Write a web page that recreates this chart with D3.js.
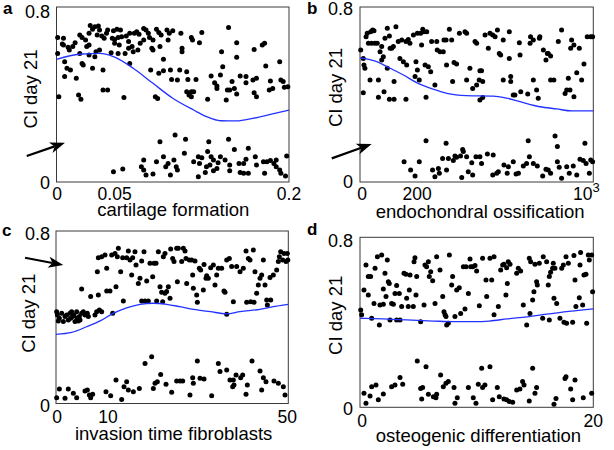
<!DOCTYPE html>
<html>
<head>
<meta charset="utf-8">
<script src="https://cdn.jsdelivr.net/npm/d3@7"></script>
<style>
  body { margin: 0; background: #fff; }
  svg text { font-family: "Liberation Sans", Arial, Helvetica, sans-serif; fill: #000; }
</style>
</head>
<body>
<svg id="chart" width="614" height="450"></svg>
<script>
// ---- data ----
const yDomain = [0, 0.8];
const yTickLabels = ["0", "0.8"];

// a: cartilage formation
const aTicks = [0, 0.05, 0.2];
const aTickLabels = ["0", "0.05", "0.2"];
const aPoints = [
  [0.029,0.715],[0.033,0.710],[0.036,0.713],[0.031,0.698],[0.028,0.680],[0.037,0.695],[0.044,0.695],[0.049,0.692],[0.052,0.698],[0.055,0.695],
  [0.043,0.680],[0.039,0.667],[0.035,0.672],[0.041,0.657],[0.048,0.657],[0.050,0.652],[0.053,0.661],[0.056,0.664],[0.060,0.667],[0.063,0.680],
  [0.067,0.680],[0.069,0.687],[0.071,0.675],[0.075,0.702],[0.077,0.695],[0.079,0.680],[0.080,0.661],[0.086,0.698],[0.088,0.683],[0.090,0.672],
  [0.095,0.695],[0.097,0.680],[0.100,0.692],[0.107,0.680],[0.116,0.661],[0.117,0.649],[0.125,0.683],[0.123,0.637],[0.148,0.706],[0.155,0.637],
  [0.170,0.606],[0.177,0.626],[0.179,0.634],[0.142,0.596],[0.155,0.570],
  [0.001,0.661],[0.006,0.657],[0.010,0.616],[0.006,0.626],[0.001,0.588],[0.007,0.550],[0.009,0.520],[0.012,0.512],[0.007,0.482],[0.002,0.390],
  [0.005,0.631],[0.011,0.603],[0.014,0.619],[0.016,0.637],[0.020,0.672],[0.022,0.661],[0.025,0.649],[0.026,0.619],[0.028,0.626],[0.017,0.474],
  [0.019,0.398],[0.021,0.378],[0.020,0.588],[0.022,0.542],[0.023,0.535],[0.028,0.581],[0.031,0.520],[0.033,0.573],[0.034,0.596],[0.037,0.603],
  [0.040,0.512],[0.040,0.421],[0.044,0.421],[0.047,0.591],[0.050,0.634],[0.053,0.588],[0.054,0.626],[0.059,0.588],[0.058,0.386],[0.062,0.611],
  [0.063,0.542],[0.065,0.619],[0.066,0.596],[0.070,0.603],[0.072,0.634],[0.082,0.611],[0.083,0.649],[0.083,0.603],[0.081,0.512],[0.085,0.390],
  [0.087,0.382],[0.088,0.497],[0.092,0.561],[0.092,0.509],[0.098,0.512],[0.099,0.469],[0.104,0.466],[0.106,0.512],[0.112,0.504],[0.108,0.611],
  [0.108,0.596],[0.112,0.413],[0.114,0.398],[0.116,0.413],[0.118,0.413],[0.113,0.469],[0.116,0.390],[0.120,0.469],[0.130,0.378],[0.133,0.485],
  [0.136,0.454],[0.138,0.439],[0.141,0.489],[0.138,0.428],[0.143,0.527],[0.147,0.421],[0.149,0.421],[0.146,0.375],[0.151,0.459],[0.153,0.428],
  [0.155,0.402],[0.158,0.485],[0.163,0.482],[0.163,0.454],[0.169,0.466],[0.172,0.474],[0.170,0.408],[0.172,0.390],[0.180,0.530],[0.183,0.421],
  [0.184,0.462],[0.186,0.428],[0.192,0.550],[0.193,0.466],[0.195,0.459],[0.196,0.433],[0.199,0.436],[0.075,0.649],[0.062,0.642],[0.089,0.619],
  [0.096,0.649],
  [0.102,0.215],[0.111,0.195],[0.089,0.184],[0.131,0.184],[0.148,0.195],[0.165,0.154],[0.153,0.149],[0.110,0.131],[0.092,0.116],[0.101,0.101],
  [0.075,0.101],[0.086,0.093],[0.122,0.116],[0.125,0.111],[0.130,0.139],[0.133,0.116],[0.141,0.116],[0.139,0.088],[0.135,0.101],[0.171,0.116],
  [0.181,0.093],[0.184,0.098],[0.189,0.101],[0.198,0.119],[0.163,0.104],[0.161,0.085],[0.073,0.070],[0.094,0.070],[0.096,0.085],[0.103,0.070],
  [0.118,0.093],[0.129,0.070],[0.132,0.078],[0.149,0.078],[0.157,0.085],[0.172,0.078],[0.178,0.093],[0.187,0.085],[0.189,0.070],[0.049,0.047],
  [0.057,0.059],[0.075,0.055],[0.077,0.032],[0.083,0.037],[0.098,0.032],[0.104,0.055],[0.122,0.024],[0.128,0.043],[0.135,0.052],[0.138,0.062],
  [0.149,0.052],[0.158,0.043],[0.161,0.040],[0.165,0.040],[0.179,0.040],[0.192,0.055],[0.193,0.040],[0.197,0.027],[0.123,0.085],[0.145,0.101]
];
const aFit = [[0,0.561],[0.020,0.584],[0.037,0.588],[0.049,0.573],[0.066,0.520],[0.083,0.451],[0.100,0.383],[0.118,0.329],
  [0.129,0.299],[0.141,0.280],[0.155,0.279],[0.169,0.291],[0.184,0.309],[0.200,0.329]];

// b: endochondral ossification
const bTicks = [0, 200, 1000];
const bTickLabels = ["0", "200", "10^3"];
const bPoints = [
  [3,0.603],[14,0.565],[17,0.535],[21,0.520],[14,0.408],[26,0.664],[31,0.680],[46,0.687],[54,0.695],[60,0.692],
  [36,0.634],[50,0.634],[64,0.634],[74,0.634],[43,0.466],[79,0.466],[86,0.596],[93,0.619],[107,0.657],[117,0.703],
  [126,0.667],[93,0.558],[100,0.573],[117,0.520],[129,0.611],[136,0.611],[143,0.619],[154,0.710],[164,0.642],[179,0.649],
  [197,0.642],[207,0.652],[214,0.634],[171,0.565],[186,0.550],[200,0.535],[197,0.378],[146,0.459],[103,0.413],[79,0.387],
  [126,0.378],[146,0.378],[229,0.672],[246,0.680],[260,0.680],[269,0.698],[274,0.687],[286,0.687],[264,0.626],[240,0.550],
  [246,0.512],[254,0.466],[236,0.482],[279,0.535],[293,0.527],[303,0.504],[283,0.387],[321,0.443],[307,0.642],[329,0.642],
  [331,0.603],[343,0.596],[357,0.596],[360,0.649],[369,0.649],[371,0.535],[383,0.698],[393,0.649],[397,0.459],[403,0.546],
  [414,0.540],[426,0.680],[450,0.687],[457,0.680],[457,0.466],[471,0.520],[483,0.428],[493,0.642],[500,0.634],[511,0.466],
  [514,0.509],[521,0.509],[526,0.459],[500,0.443],[514,0.375],[526,0.386],[536,0.672],[550,0.611],[557,0.680],[569,0.672],
  [579,0.664],[589,0.695],[597,0.588],[603,0.581],[614,0.649],[640,0.687],[640,0.565],[614,0.466],[646,0.459],[646,0.482],
  [657,0.398],[664,0.398],[683,0.637],[686,0.581],[689,0.413],[719,0.402],[729,0.634],[731,0.664],[743,0.649],[743,0.466],
  [757,0.421],[764,0.383],[769,0.657],[771,0.664],[786,0.603],[797,0.558],[803,0.588],[807,0.588],[817,0.576],[817,0.466],
  [831,0.466],[850,0.642],[864,0.695],[879,0.405],[886,0.421],[893,0.474],[900,0.421],[903,0.611],[907,0.649],[917,0.390],
  [917,0.626],[929,0.500],[940,0.611],[950,0.466],[960,0.540],[974,0.664],[989,0.664],[997,0.664],
  [283,0.189],[369,0.177],[189,0.093],[217,0.055],[236,0.027],[254,0.093],[311,0.055],[321,0.024],[340,0.040],[354,0.108],
  [379,0.108],[400,0.098],[407,0.119],[414,0.113],[431,0.119],[440,0.149],[443,0.139],[457,0.116],[464,0.047],[479,0.088],
  [483,0.032],[497,0.116],[514,0.116],[521,0.085],[546,0.128],[571,0.123],[569,0.032],[586,0.040],[593,0.047],[617,0.078],
  [631,0.040],[636,0.070],[657,0.093],[669,0.037],[679,0.040],[700,0.073],[714,0.085],[721,0.189],[726,0.116],[743,0.085],
  [760,0.073],[783,0.027],[797,0.058],[807,0.055],[817,0.040],[836,0.210],[846,0.162],[846,0.093],[854,0.067],[864,0.017],
  [886,0.070],[897,0.040],[914,0.073],[929,0.032],[943,0.104],[957,0.098],[964,0.177],[969,0.085],[983,0.040],[989,0.101],
  [997,0.093],[436,0.021],[371,0.055],[336,0.062]
];
const bFit = [[0,0.567],[72,0.550],[129,0.520],[186,0.489],[243,0.454],[314,0.424],[372,0.405],[457,0.395],[571,0.393],
  [629,0.383],[686,0.367],[771,0.344],[843,0.334],[907,0.325],[1000,0.325]];

// c: invasion time fibroblasts
const cTicks = [0, 10, 50];
const cTickLabels = ["0", "10", "50"];
const cPoints = [
  [0.14,0.426],[0.29,0.410],[0.72,0.395],[1.22,0.418],[1.58,0.380],[1.94,0.403],[2.30,0.410],[2.65,0.387],[3.01,0.418],[3.16,0.395],
  [3.59,0.403],[3.87,0.410],[4.09,0.380],[4.45,0.426],[4.59,0.395],[5.02,0.403],[5.17,0.387],[5.52,0.418],[5.88,0.426],[6.24,0.410],
  [6.74,0.418],[6.96,0.403],[5.52,0.531],[7.46,0.496],[0.5,0.383],[3.37,0.426],[4.8,0.383],
  [8.39,0.410],[8.75,0.426],[9.33,0.434],[9.83,0.426],[9.11,0.503],[8.90,0.611],[9.11,0.676],[9.83,0.681],[10.55,0.689],[10.91,0.522],
  [10.91,0.627],[11.62,0.522],[11.98,0.689],[12.20,0.418],[12.70,0.696],[13.20,0.681],[12.91,0.542],[13.42,0.720],[13.92,0.611],[14.35,0.676],
  [14.49,0.475],[15.21,0.676],[15.57,0.707],[15.93,0.666],[16.29,0.596],[16.50,0.676],[17.00,0.704],[17.22,0.642],[17.72,0.557],[18.08,0.581],
  [18.44,0.661],[18.44,0.475],[18.94,0.704],[19.16,0.475],[19.52,0.568],[19.87,0.475],[20.23,0.650],[20.81,0.588],[21.09,0.650],[21.53,0.650],
  [21.67,0.475],[22.03,0.704],[22.39,0.542],[22.74,0.516],[22.96,0.472],[23.10,0.681],[23.46,0.696],[23.46,0.511],[23.82,0.519],[24.18,0.542],
  [24.54,0.488],[24.68,0.717],[25.11,0.673],[25.40,0.658],[25.97,0.720],[26.12,0.565],[26.33,0.720],[27.05,0.658],[27.41,0.720],[27.77,0.707],
  [27.98,0.673],[28.13,0.557],[28.70,0.666],[29.20,0.666],[29.42,0.596],[29.56,0.534],[29.92,0.661],[30.28,0.503],[30.42,0.469],[30.85,0.627],
  [31.14,0.619],[31.71,0.526],[31.86,0.645],[32.29,0.581],[32.43,0.593],[32.79,0.581],[33.29,0.630],[33.87,0.642],[34.22,0.550],[34.58,0.596],
  [34.94,0.627],[35.66,0.627],[36.16,0.522],[36.38,0.516],[36.74,0.666],[36.74,0.414],[37.31,0.673],[37.81,0.635],[38.17,0.472],[38.89,0.635],
  [39.61,0.611],[40.32,0.627],[40.90,0.707],[41.04,0.469],[41.40,0.673],[41.76,0.666],[41.90,0.472],[42.48,0.712],[42.62,0.469],[42.83,0.611],
  [43.19,0.511],[43.55,0.550],[43.91,0.581],[44.27,0.596],[44.63,0.666],[44.99,0.550],[45.35,0.480],[45.49,0.457],[46.06,0.584],[46.21,0.480],
  [46.78,0.596],[47.50,0.619],[47.86,0.658],[48.07,0.681],[48.36,0.704],[48.79,0.666],[49.08,0.696],[49.51,0.658],[49.79,0.696],[49.9,0.666],
  [0.14,0.027],[0.72,0.067],[1.94,0.024],[2.65,0.067],[3.73,0.047],[4.45,0.027],[6.24,0.058],[6.74,0.063],[7.18,0.039],[7.46,0.027],
  [7.89,0.043],[10.76,0.055],[11.77,0.036],[12.91,0.109],[14.13,0.019],[14.64,0.078],[15.21,0.101],[15.57,0.063],[16.65,0.055],[17.94,0.070],
  [19.16,0.186],[20.59,0.217],[20.95,0.070],[21.31,0.094],[21.81,0.101],[22.53,0.135],[23.68,0.089],[24.90,0.052],[25.97,0.104],[26.69,0.104],
  [27.27,0.104],[28.84,0.039],[29.42,0.120],[29.56,0.094],[30.42,0.197],[31.00,0.117],[31.86,0.114],[33.51,0.036],[34.94,0.186],[35.30,0.148],
  [36.74,0.155],[37.45,0.109],[38.17,0.109],[38.03,0.078],[38.31,0.086],[38.75,0.132],[39.75,0.120],[40.18,0.132],[40.90,0.043],[41.18,0.086],
  [42.19,0.197],[43.91,0.151],[44.27,0.063],[44.63,0.120],[45.20,0.101],[46.92,0.104],[47.86,0.094],[48.93,0.078],[49.29,0.039]
];
const cFit = [[0,0.321],[3.4,0.330],[6.6,0.356],[9.5,0.383],[12.3,0.418],[15.2,0.444],[18.1,0.460],[20.9,0.465],[23.8,0.460],
  [26.7,0.449],[29.6,0.437],[33.2,0.426],[36.7,0.416],[39.6,0.426],[43.9,0.437],[47.5,0.452],[50,0.460]];

// d: osteogenic differentiation
const dTicks = [0, 20];
const dTickLabels = ["0", "20"];
const dPoints = [
  [0.06,0.458],[0.14,0.435],[0.34,0.552],[0.51,0.670],[0.71,0.529],[0.71,0.615],[0.91,0.615],[1.0,0.419],[1.2,0.489],[1.29,0.654],
  [1.49,0.709],[1.66,0.387],[1.71,0.482],[1.86,0.717],[2.0,0.485],[2.0,0.557],[2.14,0.631],[2.23,0.521],[2.34,0.693],[2.43,0.591],
  [2.57,0.411],[2.51,0.583],[2.71,0.489],[2.86,0.485],[3.0,0.536],[3.14,0.573],[3.14,0.411],[3.37,0.536],[3.43,0.411],[3.57,0.474],
  [3.77,0.631],[3.94,0.626],[4.0,0.513],[4.14,0.474],[4.23,0.552],[4.29,0.623],[4.57,0.474],[4.63,0.685],[4.71,0.704],[4.8,0.529],
  [4.86,0.615],[5.2,0.403],[5.49,0.482],[5.57,0.670],[5.71,0.662],[5.86,0.685],[5.94,0.615],[6.06,0.638],[6.23,0.595],[6.43,0.489],
  [6.57,0.709],[6.86,0.646],[7.09,0.521],[7.2,0.450],[7.29,0.435],[7.37,0.427],[7.43,0.387],[7.57,0.395],[7.66,0.717],[7.86,0.576],
  [7.94,0.615],[8.14,0.427],[8.29,0.552],[8.51,0.563],[8.63,0.442],[8.86,0.662],[9.0,0.463],[9.09,0.662],[9.29,0.536],[9.43,0.698],
  [9.49,0.662],[9.66,0.662],[9.86,0.667],[10.0,0.642],[10.23,0.478],[10.51,0.701],[10.8,0.599],[10.86,0.521],[11.14,0.701],[11.29,0.599],
  [11.49,0.435],[11.49,0.709],[11.86,0.474],[12.06,0.646],[12.23,0.670],[12.34,0.673],[12.51,0.529],[12.57,0.657],[12.63,0.583],[12.71,0.685],
  [12.86,0.673],[13.43,0.631],[13.57,0.654],[13.77,0.642],[14.0,0.482],[14.29,0.387],[14.51,0.701],[14.57,0.442],[14.63,0.685],[14.8,0.505],
  [14.91,0.544],[15.0,0.673],[15.14,0.591],[15.2,0.576],[15.37,0.678],[15.66,0.419],[15.71,0.709],[16.0,0.685],[16.14,0.576],[16.23,0.615],
  [16.23,0.411],[16.34,0.635],[16.51,0.654],[16.57,0.678],[16.63,0.513],[16.71,0.654],[16.86,0.489],[17.14,0.419],[17.29,0.654],[17.43,0.670],
  [17.49,0.400],[17.66,0.709],[17.71,0.395],[17.86,0.678],[18.23,0.400],[18.34,0.714],[18.43,0.599],[18.51,0.474],[18.8,0.516],[18.86,0.670],
  [18.91,0.729],[19.09,0.482],[19.2,0.623],[19.37,0.626],[19.43,0.395],[19.57,0.717],[19.66,0.693],[19.86,0.717],[19.94,0.544],
  [0.34,0.066],[0.51,0.019],[0.86,0.053],[1.0,0.097],[1.37,0.105],[1.57,0.035],[2.0,0.063],[2.71,0.097],[3.0,0.105],[3.43,0.140],
  [3.66,0.108],[4.91,0.218],[5.2,0.089],[5.29,0.039],[5.37,0.093],[5.66,0.191],[5.86,0.061],[6.29,0.050],[6.51,0.045],[6.57,0.061],
  [6.91,0.152],[7.14,0.097],[7.37,0.113],[7.57,0.121],[8.06,0.093],[8.14,0.019],[8.34,0.045],[9.29,0.093],[9.71,0.045],[9.94,0.019],
  [10.14,0.108],[10.43,0.184],[10.51,0.093],[10.71,0.105],[11.14,0.191],[11.37,0.035],[11.77,0.093],[11.94,0.050],[12.34,0.039],[12.57,0.035],
  [12.8,0.027],[13.09,0.024],[13.43,0.082],[13.71,0.086],[13.94,0.121],[14.06,0.105],[14.51,0.030],[14.8,0.184],[15.0,0.066],[15.14,0.093],
  [16.63,0.014],[16.8,0.042],[17.57,0.136],[17.66,0.144],[18.06,0.086],[18.23,0.035],[18.43,0.129],[19.14,0.045],[19.86,0.066]
];
const dFit = [[0,0.419],[2,0.416],[4,0.411],[6.3,0.406],[8,0.403],[9.7,0.403],[11.1,0.406],[12.6,0.416],[14.3,0.426],
  [16,0.438],[17.7,0.450],[19.1,0.458],[20,0.463]];

// arrows: [tail, tip] in data units of each panel
const aArrow = [[-0.0256, 0.119], [0.0073, 0.179]];
const bArrow = [[-121, 0.108], [50, 0.174]];
const cArrow = [[-6.67, 0.676], [1.57, 0.642]];

// ---- layout ----
const panels = [
  { letter: "a", points: aPoints, fit: aFit, xDomain: [0, 0.2], ticks: aTicks, labels: aTickLabels, arrow: aArrow,
    title: "cartilage formation",
    box: { x: 56.5, y: 7, w: 232.5, h: 175 }, tickDx: [0.5, 0, 0],
    yLab: { x: -6.5, top: 11.3, bot: 7 }, xLabY: 17.5, titleY: 34, titleDx: 0.5,
    yTitle: { x: -20, dy: -5.5 }, letterPos: [3, 14] },
  { letter: "b", points: bPoints, fit: bFit, xDomain: [0, 1000], ticks: bTicks, labels: bTickLabels, arrow: bArrow,
    title: "endochondral ossification",
    box: { x: 360, y: 7, w: 233.3, h: 175 }, tickDx: [2, 10.5, -7],
    yLab: { x: -7, top: 8, bot: 6 }, xLabY: 17.5, titleY: 35.5, titleDx: 3.5,
    yTitle: { x: -18.5, dy: -7 }, letterPos: [307, 14] },
  { letter: "c", points: cPoints, fit: cFit, xDomain: [0, 50], ticks: cTicks, labels: cTickLabels, arrow: cArrow,
    title: "invasion time fibroblasts",
    box: { x: 56, y: 231, w: 232.3, h: 172.5 }, tickDx: [1, 5.5, -1],
    yLab: { x: -6, top: 9, bot: 8.5 }, xLabY: 19, titleY: 36.5, titleDx: 1.5,
    yTitle: { x: -21, dy: -4 }, letterPos: [2, 236] },
  { letter: "d", points: dPoints, fit: dFit, xDomain: [0, 20], ticks: dTicks, labels: dTickLabels, arrow: null,
    title: "osteogenic differentiation",
    box: { x: 360, y: 237.3, w: 233.3, h: 170 }, tickDx: [2, 0],
    yLab: { x: -7, top: 9.4, bot: 7.7 }, xLabY: 20.2, titleY: 35.2, titleDx: 1.8,
    yTitle: { x: -18.5, dy: -7 }, letterPos: [307, 235] }
];

const svg = d3.select("#chart");

panels.forEach(drawPanel);

function drawPanel(p) {
  const b = p.box;
  const g = svg.append("g").attr("transform", `translate(${b.x},${b.y})`);

  const x = d3.scaleLinear().domain(p.xDomain).range([0, b.w]);
  const y = d3.scaleLinear().domain(yDomain).range([b.h, 0]);

  // frame
  g.append("rect")
    .attr("width", b.w).attr("height", b.h)
    .attr("fill", "none").attr("stroke", "#3a3a3a").attr("stroke-width", 1);

  // points
  g.append("g").selectAll("circle")
    .data(p.points)
    .join("circle")
    .attr("cx", d => x(d[0]))
    .attr("cy", d => y(d[1]))
    .attr("r", 2.5)
    .attr("fill", "#000");

  // fitted curve
  const line = d3.line()
    .x(d => x(d[0]))
    .y(d => y(d[1]))
    .curve(d3.curveMonotoneX);
  g.append("path")
    .datum(p.fit)
    .attr("fill", "none")
    .attr("stroke", "#2233ff")
    .attr("stroke-width", 1.3)
    .attr("d", line);

  // x tick labels (no tick marks in the figure)
  const xl = g.append("g").attr("font-size", 17.5).attr("text-anchor", "middle");
  p.ticks.forEach((t, i) => {
    const txt = xl.append("text")
      .attr("x", x(t) + (p.tickDx[i] || 0))
      .attr("y", b.h + p.xLabY);
    const lab = p.labels[i];
    if (lab.includes("^")) {
      const [base, sup] = lab.split("^");
      txt.append("tspan").text(base);
      txt.append("tspan").attr("font-size", 13).attr("dy", -8).text(sup);
    } else {
      txt.text(lab);
    }
  });

  // y tick labels
  const yl = g.append("g").attr("font-size", 18).attr("text-anchor", "end");
  yl.append("text").attr("x", p.yLab.x).attr("y", y(0.8) + p.yLab.top).text(yTickLabels[1]);
  yl.append("text").attr("x", p.yLab.x).attr("y", y(0) + p.yLab.bot).text(yTickLabels[0]);

  // axis titles
  g.append("text")
    .attr("x", b.w / 2 + p.titleDx)
    .attr("y", b.h + p.titleY)
    .attr("text-anchor", "middle")
    .attr("font-size", 18.5)
    .text(p.title);

  g.append("text")
    .attr("transform", `translate(${p.yTitle.x},${b.h / 2 + p.yTitle.dy}) rotate(-90)`)
    .attr("text-anchor", "middle")
    .attr("font-size", 18.5)
    .text("CI day 21");

  // panel letter
  svg.append("text")
    .attr("x", p.letterPos[0]).attr("y", p.letterPos[1])
    .attr("font-size", 17).attr("font-weight", "bold")
    .text(p.letter);

  // arrow annotation
  if (p.arrow) {
    const [t0, t1] = p.arrow;
    drawArrow(g, x(t0[0]), y(t0[1]), x(t1[0]), y(t1[1]));
  }
}

function drawArrow(g, x0, y0, x1, y1) {
  const ang = Math.atan2(y1 - y0, x1 - x0);
  const len = 15, half = 5.5, notch = 11;
  const ca = Math.cos(ang), sa = Math.sin(ang);
  const bx = x1 - len * ca, by = y1 - len * sa;
  const nx = x1 - notch * ca, ny = y1 - notch * sa;
  g.append("line")
    .attr("x1", x0).attr("y1", y0).attr("x2", nx).attr("y2", ny)
    .attr("stroke", "#000").attr("stroke-width", 2.2);
  const pts = [
    [x1, y1],
    [bx - half * sa, by + half * ca],
    [nx, ny],
    [bx + half * sa, by - half * ca]
  ];
  g.append("polygon")
    .attr("points", pts.map(q => q.join(",")).join(" "))
    .attr("fill", "#000");
}
</script>
</body>
</html>
